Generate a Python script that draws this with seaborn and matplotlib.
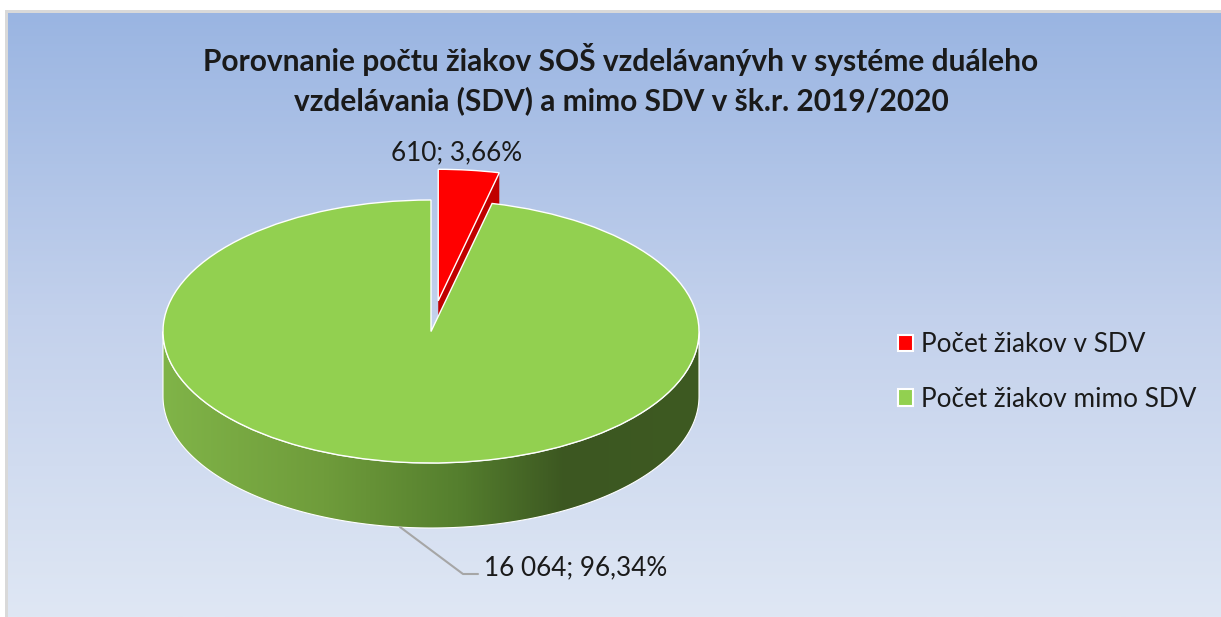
import numpy as np
import matplotlib
matplotlib.use("Agg")
import matplotlib.pyplot as plt
import seaborn as sns
from matplotlib.patches import Polygon, Patch, Rectangle
from matplotlib.colors import LinearSegmentedColormap

# ---- data ----
categories = ["Počet žiakov v SDV", "Počet žiakov mimo SDV"]
counts = [610, 16064]
percent_labels = ["3,66%", "96,34%"]
count_labels = ["610", "16 064"]
colors = ["#ff0000", "#92d050"]
title = "Porovnanie počtu žiakov SOŠ vzdelávanývh v systéme duáleho\nvzdelávania (SDV) a mimo SDV v šk.r. 2019/2020"

sns.set_theme(style="white")
plt.rcParams["font.family"] = ["Lato", "DejaVu Sans"]

W, H = 1221, 617
fig = plt.figure(figsize=(W / 100, H / 100), dpi=100)
fig.patch.set_facecolor("white")

# background gradient
bg = fig.add_axes([8 / W, 0, 1 - 8 / W, (H - 13) / H])
grad = np.linspace(0, 1, 256).reshape(-1, 1)
bg_cmap = LinearSegmentedColormap.from_list("bg", ["#9ab5e2", "#c3d1ec", "#dfe7f4"])
bg.imshow(grad, aspect="auto", cmap=bg_cmap, extent=[0, 1, 0, 1], origin="upper")
bg.set_axis_off()
fig.patches.append(Rectangle((5 / W, 0), 3 / W, (H - 10) / H, transform=fig.transFigure,
                             facecolor="#d9d9d9", edgecolor="none", zorder=0))
fig.patches.append(Rectangle((5 / W, (H - 13) / H), 1, 3 / H, transform=fig.transFigure,
                             facecolor="#d9d9d9", edgecolor="none", zorder=0))

# pie geometry (pixels)
cx, cy, rx, ry, depth_px = 431, 331.5, 268, 131.5, 65
ax = fig.add_axes([0, 0, 1, 1])
ax.patch.set_alpha(0)

def px2d(px, py):
    return (px - cx) / rx, (cy - py) / ry

explode_r = 0.235
total = sum(counts)
frac = counts[0] / total
start = 90.0
end_red = start - 360 * frac
mid_red = np.deg2rad((start + end_red) / 2)
d = depth_px / ry

wedges, _ = ax.pie(counts, colors=colors, startangle=90, counterclock=False,
                   explode=[explode_r, 0], radius=1, center=(0, 0),
                   wedgeprops=dict(edgecolor="white", linewidth=1.0))
for w in wedges:
    w.set_zorder(5)

ax.set_aspect("auto")
x0, y0 = px2d(0, H)
x1, y1 = px2d(W, 0)
ax.set_xlim(x0, x1)
ax.set_ylim(y0, y1)
ax.set_axis_off()

# side wall of pie (front half)
t = np.linspace(np.pi, 2 * np.pi, 200)
top = np.column_stack([np.cos(t), np.sin(t)])
bot = np.column_stack([np.cos(t[::-1]), np.sin(t[::-1]) - d])
side = Polygon(np.vstack([top, bot]), closed=True, facecolor="none",
               edgecolor="white", linewidth=0.8, zorder=3)
ax.add_patch(side)
side_cmap = LinearSegmentedColormap.from_list(
    "side", [(0, "#80b448"), (0.3, "#6f9c3b"), (0.55, "#557f2e"), (0.75, "#3c5721"), (1.0, "#3e5a22")])
img = ax.imshow(np.linspace(0, 1, 256).reshape(1, -1), cmap=side_cmap, aspect="auto",
                extent=[-1, 1, -1 - d, 0.05], zorder=2)
img.set_clip_path(side)

# red wedge cut face
crx, cry = explode_r * np.cos(mid_red), explode_r * np.sin(mid_red)
ex, ey = crx + np.cos(np.deg2rad(end_red)), cry + np.sin(np.deg2rad(end_red))
face = Polygon([(crx, cry), (ex, ey), (ex, ey - d), (crx, cry - d)], closed=True,
               facecolor="#c00000", edgecolor="none", zorder=1)
ax.add_patch(face)

# data labels
lab_fs = 18.8
lx, ly = px2d(457, 153)
ax.text(lx, ly, f"{count_labels[0]}; {percent_labels[0]}", ha="center", va="center",
        fontsize=lab_fs, color="#1a1a1a", zorder=10)
p1 = px2d(400, 527)
p2 = px2d(463, 574)
p3 = px2d(478, 574)
ax.plot([p1[0], p2[0], p3[0]], [p1[1], p2[1], p3[1]], color="#a6a6a6", lw=1.5, zorder=4)
tx, ty = px2d(484, 568)
ax.text(tx, ty, f"{count_labels[1]}; {percent_labels[1]}", ha="left", va="center",
        fontsize=lab_fs, color="#1a1a1a", zorder=10)

# title
fig.text(621 / W, 1 - 79 / H, title, ha="center", va="center", fontsize=21.5,
         fontweight="bold", color="#1a1a1a", linespacing=1.45)

# legend
handles = [Patch(facecolor=c, edgecolor="white", linewidth=1.5) for c in colors]
fig.legend(handles, categories, loc="center left", bbox_to_anchor=(874 / W, 1 - 372 / H),
           frameon=False, fontsize=lab_fs, handlelength=0.6, handleheight=0.6,
           handletextpad=0.3, labelspacing=1.12, labelcolor="#1a1a1a")

fig.savefig("out.png", dpi=100, facecolor=fig.get_facecolor())
